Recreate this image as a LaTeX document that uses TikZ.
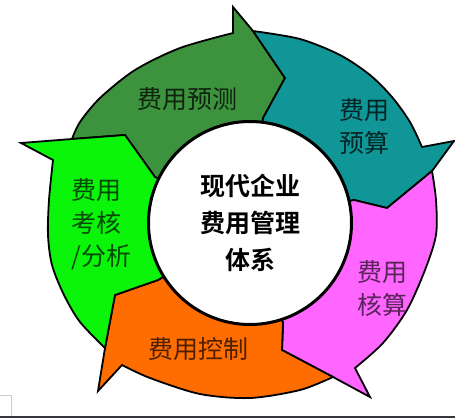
\documentclass[tikz,border=0pt]{standalone}
\usepackage{fontspec}
\newfontfamily\cjk{Noto Sans CJK SC}
\newfontfamily\cjkbold{Noto Sans CJK SC Bold}
\definecolor{fcgreen}{RGB}{61,146,61}
\definecolor{buteal}{RGB}{16,150,150}
\definecolor{acpink}{RGB}{255,102,255}
\definecolor{ctorange}{RGB}{255,108,0}
\definecolor{evgreen}{RGB}{10,245,10}
\definecolor{band}{RGB}{52,56,62}

\begin{document}
\begin{tikzpicture}[x=1pt,y=-1pt,
  seg/.style={draw=black,line width=1.8pt},
  lbl/.style={font=\cjk\fontsize{25}{33}\selectfont,align=center,inner sep=0pt},
  hub/.style={circle,draw=black,line width=3pt,fill=white,minimum size=203pt,inner sep=0pt,
    align=center,font=\cjkbold\fontsize{25}{37}\selectfont}]
\useasboundingbox (0,0) rectangle (455,418);
\coordinate (C) at (250,223);
% arrow heads: inner point, tip, edge point, barb, notch
\coordinate (fc-i) at (263,118); \coordinate (fc-t) at (285,78);  \coordinate (fc-o) at (253,31);
\coordinate (fc-b) at (233,7);   \coordinate (fc-n) at (233,33);
\coordinate (bu-i) at (354,200); \coordinate (bu-t) at (387,208); \coordinate (bu-o) at (432,171);
\coordinate (bu-b) at (454,141); \coordinate (bu-n) at (422,147);
\coordinate (ac-i) at (283,323); \coordinate (ac-t) at (282,350); \coordinate (ac-o) at (333,377);
\coordinate (ac-b) at (370,397); \coordinate (ac-n) at (355,368);
\coordinate (ct-i) at (158,280); \coordinate (ct-t) at (115,295); \coordinate (ct-o) at (105,348);
\coordinate (ct-b) at (98,391);  \coordinate (ct-n) at (122,365);
\coordinate (ev-i) at (155,177); \coordinate (ev-t) at (125,135); \coordinate (ev-o) at (72,139);
\coordinate (ev-b) at (21,143);  \coordinate (ev-n) at (53,160);

\filldraw[seg,fill=fcgreen] (ev-i) -- (C) -- (fc-i) -- (fc-t) -- (fc-o) -- (fc-b)
  -- plot[smooth] coordinates {(fc-n) (180,48) (135,70) (100,98) (80,122) (ev-o)} -- (ev-t) -- cycle;
\filldraw[seg,fill=buteal] (fc-i) -- (C) -- (bu-i) -- (bu-t) -- (bu-o) -- (bu-b)
  -- plot[smooth] coordinates {(bu-n) (410,122) (392,97) (370,75) (340,55) (300,39) (fc-o)} -- (fc-t) -- cycle;
\filldraw[seg,fill=acpink] (bu-i) -- (C) -- (ac-i) -- (ac-t) -- (ac-o) -- (ac-b)
  -- plot[smooth] coordinates {(ac-n) (383,343) (407,310) (425,270) (436,235) (436,200) (bu-o)} -- (bu-t) -- cycle;
\filldraw[seg,fill=ctorange] (ac-i) -- (C) -- (ct-i) -- (ct-t) -- (ct-o) -- (ct-b)
  -- plot[smooth] coordinates {(ct-n) (150,378) (200,394) (250,398) (300,390) (ac-o)} -- (ac-t) -- cycle;
\filldraw[seg,fill=evgreen] (ct-i) -- (C) -- (ev-i) -- (ev-t) -- (ev-o) -- (ev-b)
  -- plot[smooth] coordinates {(ev-n) (49,200) (48,235) (52,265) (64,295) (80,322) (ct-o)} -- (ct-t) -- cycle;

\node[hub] (core) at (C) {现代企业\\费用管理\\体系};

\node[lbl,text=fcgreen!25!black] (fc) at (187,99) {费用预测};
\node[lbl,text=buteal!25!black] (bu) at (364,127) {费用\\预算};
\node[lbl,text=acpink!35!black] (ac) at (382,289) {费用\\核算};
\node[lbl,text=ctorange!30!black] (ct) at (198,349) {费用控制};
\node[lbl,align=left,anchor=west,text=evgreen!30!black] (ev) at (71,224) {费用\\考核\\/分析};

\fill[band] (0,415.5) rectangle (455,418);
\draw[black!20,line width=0.8pt] (0,395) -- (11,395) -- (11,415.5);
\end{tikzpicture}
\end{document}
